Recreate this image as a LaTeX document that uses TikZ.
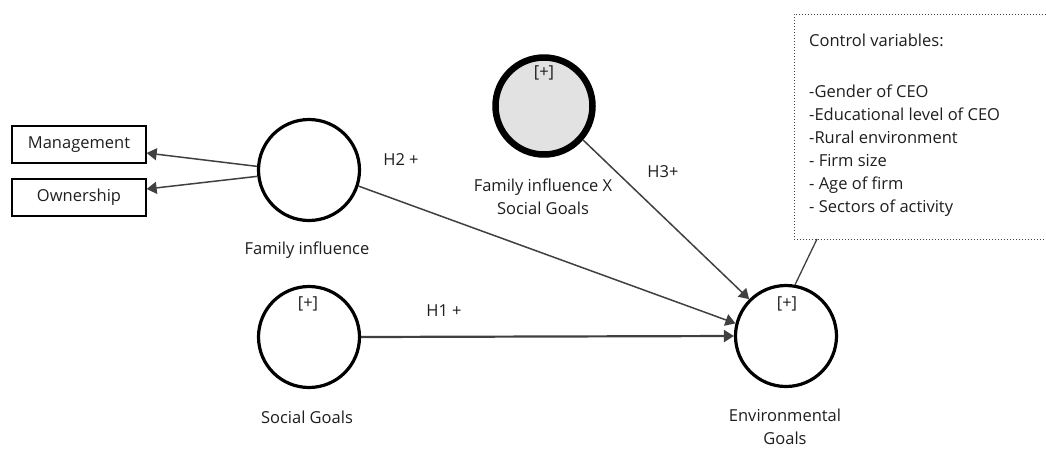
\documentclass[tikz,border=0pt]{standalone}
\usepackage{fontspec}
\setmainfont{Open Sans}
\usetikzlibrary{arrows.meta,calc}
\definecolor{txt}{HTML}{1E1E1E}
\definecolor{ln}{HTML}{404040}
\definecolor{ixfill}{HTML}{E2E2E2}
\tikzset{
  lat/.style={circle,draw=black,line width=3.2pt,minimum size=101pt,inner sep=0pt},
  latix/.style={circle,draw=black,fill=ixfill,line width=6.5pt,minimum size=97pt,inner sep=0pt},
  ind/.style={rectangle,draw=black,line width=1.3pt,minimum width=134pt,minimum height=37pt,inner sep=0pt,text=txt},
  lbl/.style={text=txt,inner sep=0pt,align=center},
  arr/.style={draw=ln,line width=1.5pt,-{Triangle[length=10pt,width=12pt]}},
  arrb/.style={draw=ln,line width=2.2pt,-{Triangle[length=10pt,width=12pt]}},
  ctrlbox/.style={draw=ln,line width=1pt,dotted},
}
\begin{document}
\begin{tikzpicture}[x=1pt,y=-1pt,font=\fontsize{16.5}{23}\selectfont]
\useasboundingbox (0,0) rectangle (1046,448);
% indicators
\node[ind] (mgmt) at (79,144.5) {Management};
\node[ind] (own) at (79,197.5) {Ownership};
% latent variables
\node[lat] (fi) at (309,170) {};
\node[latix] (ix) at (544,106) {};
\node[lat] (sg) at (309,337) {};
\node[lat] (eg) at (786,336) {};
% [+] marks
\node[lbl] (ixp) at (544,73) {[+]};
\node[lbl] (sgp) at (308,304) {[+]};
\node[lbl] (egp) at (787,304) {[+]};
% labels
\node[lbl] (fil) at (307,250) {Family influence};
\node[lbl] (ixl) at (543,196.5) {Family influence X\\Social Goals};
\node[lbl] (sgl) at (307,417) {Social Goals};
\node[lbl] (egl) at (785,427) {Environmental\\Goals};
% hypothesis labels
\node[lbl] (h2) at (401,160) {H2 +};
\node[lbl] (h3) at (663,172) {H3+};
\node[lbl] (h1) at (444,311) {H1 +};
% control variables box
\draw[ctrlbox] (1046,14) -- (794,14) -- (794,239) -- (1046,239);
\node[lbl,align=left,anchor=north west] (ctrl) at (809,34) {Control variables:\\[28pt]-Gender of CEO\\-Educational level of CEO\\-Rural environment\\- Firm size\\- Age of firm\\- Sectors of activity};
\coordinate (ctrlfoot) at (817,239);
% connectors
\draw[arr] (fi.176) -- ([yshift=-8.5pt]mgmt.east);
\draw[arr] (fi.187) -- ([yshift=8.5pt]own.east);
\draw[arr] (fi.-18) -- (eg.166);
\draw[arr] (ix.-41) -- (eg.135);
\draw[arrb] (sg.east) -- (eg.west);
\draw[draw=ln,line width=1.3pt] (ctrlfoot) -- (eg.80);
\end{tikzpicture}
\end{document}
